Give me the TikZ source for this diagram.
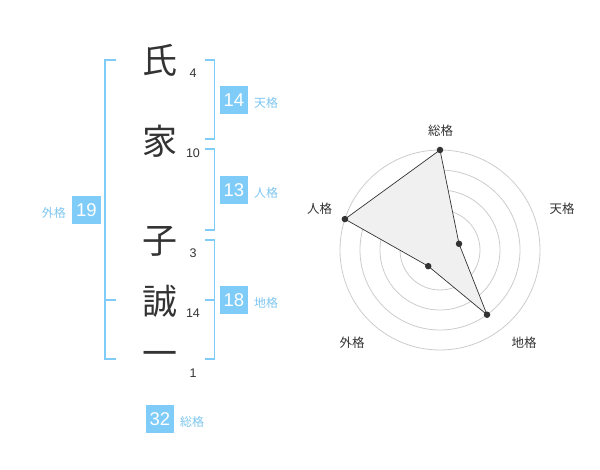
\documentclass[tikz,border=0pt]{standalone}
\usepackage{fontspec}
\setmainfont{Noto Sans CJK JP}
\newfontfamily\lat{Liberation Sans}
\definecolor{kblue}{HTML}{80CCF8}
\definecolor{klab}{HTML}{7EC6F0}
\definecolor{kdark}{HTML}{333333}
\definecolor{kgrid}{HTML}{CCCCCC}
\definecolor{kfill}{HTML}{F0F0F0}
\begin{document}
\begin{tikzpicture}[x=1pt,y=-1pt,
  kanji/.style={font=\fontsize{35}{35}\selectfont, text=kdark, inner sep=0pt},
  stroke/.style={font=\lat\fontsize{12.5}{12.5}\selectfont, text=kdark, inner sep=0pt},
  numbox/.style={fill=kblue, text=white, minimum width=28.5pt, minimum height=28.5pt, inner sep=0pt, font=\lat\fontsize{18.5}{18.5}\selectfont},
  kaku/.style={font=\fontsize{12}{12}\selectfont, text=klab, inner sep=0pt},
  brk/.style={draw=kblue, line width=1.6pt},
  rlab/.style={font=\fontsize{12.5}{12.5}\selectfont, text=kdark, inner sep=0pt},
  grid/.style={draw=kgrid, line width=0.8pt},
  pt/.style={circle, fill=kdark, inner sep=0pt, minimum size=6.5pt}]
\useasboundingbox (0,0) rectangle (600,470);
% characters
\node[kanji] (c1) at (160,60) {氏};
\node[kanji] (c2) at (160,141.5) {家};
\node[kanji] (c3) at (160,241) {子};
\node[kanji] (c4) at (160,301.5) {誠};
\node[kanji] (c5) at (160,359) {一};
\node[stroke] (s1) at (193,73) {4};
\node[stroke] (s2) at (193,153) {10};
\node[stroke] (s3) at (193,253) {3};
\node[stroke] (s4) at (193,313) {14};
\node[stroke] (s5) at (193,373) {1};
% brackets
\draw[brk] (116,60) -- (105,60) -- (105,359.3) -- (116,359.3);
\draw[brk] (105,300) -- (116,300);
\draw[brk] (205,60) -- (214.5,60) -- (214.5,139.3) -- (205,139.3);
\draw[brk] (205,149.3) -- (214.5,149.3) -- (214.5,230) -- (205,230);
\draw[brk] (205,240) -- (214.5,240) -- (214.5,359.3) -- (205,359.3);
\draw[brk] (205,300) -- (214.5,300);
% boxes
\node[numbox] (ten) at (234,100) {14};
\node[kaku, anchor=west] (tenl) at (254,103) {天格};
\node[numbox] (jin) at (234,190) {13};
\node[kaku, anchor=west] (jinl) at (254,193) {人格};
\node[numbox] (chi) at (234,300) {18};
\node[kaku, anchor=west] (chil) at (254,303) {地格};
\node[numbox] (gai) at (86.5,210) {19};
\node[kaku, anchor=east] (gail) at (66,213) {外格};
\node[numbox] (sou) at (160,419) {32};
\node[kaku, anchor=west] (soul) at (180,422) {総格};
% radar
\coordinate (O) at (440,250);
\foreach \r in {20,40,60,80,100} \draw[grid] (O) circle[radius=\r];
\node[circle, fill=kgrid, inner sep=0pt, minimum size=6pt] (ctr) at (O) {};
\path (O) ++(0,-100) coordinate (pSo)
      (O) ++(-18:20) coordinate (pTe)
      (O) ++(54:80) coordinate (pCh)
      (O) ++(126:20) coordinate (pGa)
      (O) ++(198:100) coordinate (pJi);
\filldraw[fill=kfill, draw=kdark, line width=0.7pt] (pSo) -- (pTe) -- (pCh) -- (pGa) -- (pJi) -- cycle;
\foreach \p in {pSo,pTe,pCh,pGa,pJi} \node[pt] at (\p) {};
\node[rlab] (lSo) at (440.7,130.5) {総格};
\node[rlab] (lTe) at (562,208.5) {天格};
\node[rlab] (lJi) at (319.5,208.5) {人格};
\node[rlab] (lGa) at (352,342.5) {外格};
\node[rlab] (lCh) at (524,342.5) {地格};
\end{tikzpicture}
\end{document}
